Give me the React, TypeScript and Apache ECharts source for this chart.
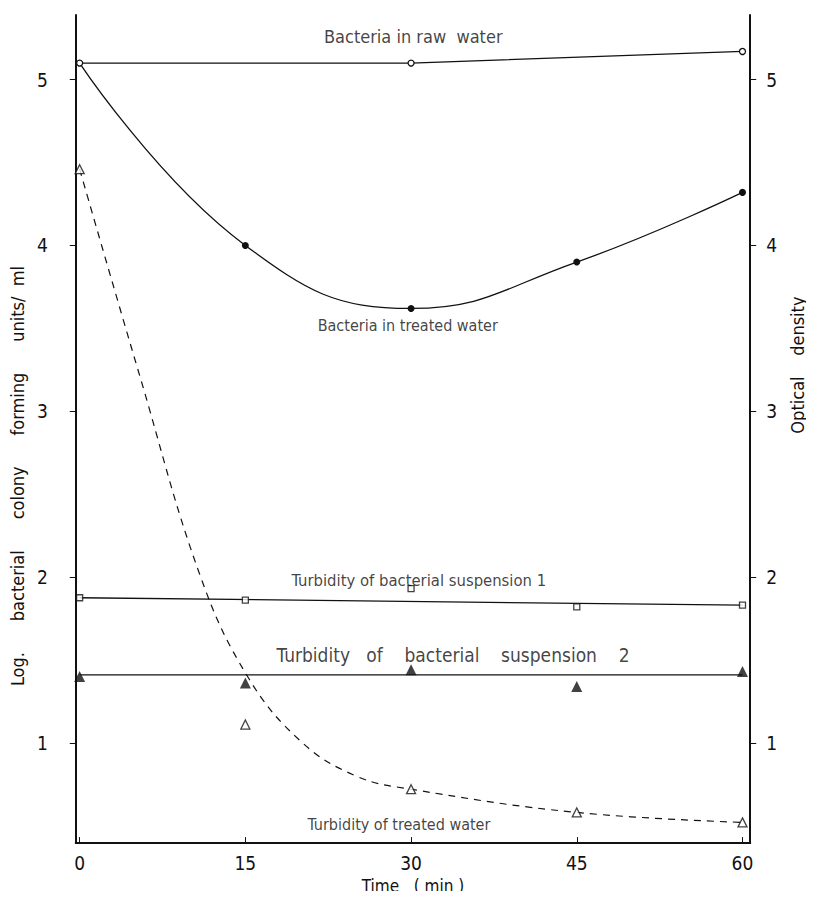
import React, { useEffect, useRef } from "react";
import * as echarts from "echarts";

// ---- data ----
const timeTicks = [0, 15, 30, 45, 60];
const yTicks = [1, 2, 3, 4, 5];

const rawWaterTimes = [0, 30, 60];
const rawWater = [5.1, 5.1, 5.17];

const treatedTimes = [0, 15, 30, 45, 60];
const treatedWater = [5.1, 4.0, 3.62, 3.9, 4.32];

const susp1Times = [0, 15, 30, 45, 60];
const susp1 = [1.875, 1.86, 1.93, 1.82, 1.83];
const susp1FitTimes = [0, 60];
const susp1Fit = [1.875, 1.83];

const susp2Times = [0, 15, 30, 45, 60];
const susp2 = [1.4, 1.36, 1.44, 1.34, 1.43];
const susp2FitTimes = [0, 60];
const susp2Fit = [1.41, 1.41];

const turbTimes = [0, 15, 30, 45, 60];
const turbTreated = [4.46, 1.11, 0.72, 0.58, 0.52];
const turbCurveTimes = [0, 5.5, 10.9, 15.2, 20, 25, 30, 45, 60];
const turbCurve = [4.46, 3.2, 2.01, 1.4, 1.01, 0.8, 0.72, 0.58, 0.52];

const annotationTexts = [
  "Bacteria in raw  water",
  "Bacteria in treated water",
  "Turbidity of bacterial suspension 1",
  "Turbidity   of    bacterial    suspension    2",
  "Turbidity of treated water",
];
const annotationTimes = [30.2, 29.7, 30.7, 33.8, 28.9];
const annotationValues = [5.26, 3.52, 1.98, 1.53, 0.51];
const annotationSizes = [18, 16, 16.5, 19, 16];

const FONT = "'Liberation Sans Narrow', 'DejaVu Sans Condensed', 'Liberation Sans', sans-serif";
const INK = "#111";

const zip = (xs: number[], ys: number[]) => xs.map((x, i) => [x, ys[i]]);

export default function App() {
  const ref = useRef<HTMLDivElement>(null);
  useEffect(() => {
    if (!ref.current) return;
    const chart = echarts.init(ref.current, null, { renderer: "svg" });
    const yAxisCommon = {
      type: "value" as const,
      min: 0.395,
      max: 5.39,
      splitLine: { show: false },
      axisLine: { show: true, onZero: false, lineStyle: { color: INK, width: 2 } },
      axisTick: { show: true, customValues: yTicks, length: 6, lineStyle: { color: INK, width: 1 } },
      nameLocation: "middle" as const,
      nameRotate: 90,
    };
    chart.setOption({
      animation: false,
      backgroundColor: "#fff",
      grid: { left: 74, right: 58, top: 15, bottom: 50 },
      xAxis: {
        type: "value",
        min: -0.35,
        max: 60.7,
        splitLine: { show: false },
        axisLine: { show: true, onZero: false, lineStyle: { color: INK, width: 2 } },
        axisTick: { show: true, inside: true, customValues: timeTicks, length: 6, lineStyle: { color: INK } },
        axisLabel: { customValues: timeTicks, margin: 10, fontSize: 19, color: INK, fontFamily: FONT },
        name: "Time   ( min )",
        nameLocation: "middle",
        nameGap: 28,
        nameTextStyle: { fontSize: 17, color: INK, fontFamily: FONT },
      },
      yAxis: [
        {
          ...yAxisCommon,
          position: "left",
          axisLabel: { customValues: yTicks, margin: 28, fontSize: 19, color: INK, fontFamily: FONT },
          name: "Log.      bacterial      colony      forming      units/  ml",
          nameGap: 44,
          nameTextStyle: { fontSize: 18, color: INK, fontFamily: FONT, padding: [0, 94, 0, 0] },
        },
        {
          ...yAxisCommon,
          position: "right",
          axisLabel: { customValues: yTicks, margin: 16, fontSize: 19, color: INK, fontFamily: FONT },
          name: "Optical    density",
          nameGap: 36,
          nameTextStyle: { fontSize: 18, color: INK, fontFamily: FONT, padding: [0, 0, 0, 128] },
        },
      ],
      series: [
        {
          name: "Bacteria in raw water",
          type: "line",
          data: zip(rawWaterTimes, rawWater),
          symbol: "circle",
          symbolSize: 6,
          itemStyle: { color: "#fff", borderColor: INK, borderWidth: 1.3 },
          lineStyle: { color: INK, width: 1.3 },
          z: 3,
        },
        {
          name: "Bacteria in treated water",
          type: "line",
          smooth: 0.45,
          data: zip(treatedTimes, treatedWater).map((p, i) =>
            i === 0 ? { value: p, symbol: "none" } : { value: p }
          ),
          symbol: "circle",
          symbolSize: 7,
          itemStyle: { color: INK },
          lineStyle: { color: INK, width: 1.3 },
          z: 2,
        },
        {
          name: "Suspension 1 fit",
          type: "line",
          data: zip(susp1FitTimes, susp1Fit),
          showSymbol: false,
          lineStyle: { color: INK, width: 1.3 },
        },
        {
          name: "Turbidity of bacterial suspension 1",
          type: "scatter",
          data: zip(susp1Times, susp1),
          symbol: "rect",
          symbolSize: 6,
          itemStyle: { color: "#fff", borderColor: INK, borderWidth: 1.3 },
          z: 3,
        },
        {
          name: "Suspension 2 fit",
          type: "line",
          data: zip(susp2FitTimes, susp2Fit),
          showSymbol: false,
          lineStyle: { color: INK, width: 1.3 },
        },
        {
          name: "Turbidity of bacterial suspension 2",
          type: "scatter",
          data: zip(susp2Times, susp2),
          symbol: "triangle",
          symbolSize: 11,
          itemStyle: { color: INK },
          z: 3,
        },
        {
          name: "Treated water curve",
          type: "line",
          smooth: 0.4,
          data: zip(turbCurveTimes, turbCurve),
          showSymbol: false,
          lineStyle: { color: INK, width: 1.2, type: [7, 6] },
        },
        {
          name: "Turbidity of treated water",
          type: "scatter",
          data: zip(turbTimes, turbTreated),
          symbol: "triangle",
          symbolSize: 9,
          itemStyle: { color: "#fff", borderColor: INK, borderWidth: 1.3 },
          z: 3,
        },
        {
          name: "annotations",
          type: "scatter",
          silent: true,
          symbolSize: 1,
          itemStyle: { color: "rgba(0,0,0,0)" },
          data: annotationTexts.map((t, i) => ({
            name: t,
            value: [annotationTimes[i], annotationValues[i]],
            label: { fontSize: annotationSizes[i] },
          })),
          label: {
            show: true,
            position: "inside",
            formatter: "{b}",
            fontSize: 18,
            color: INK,
            fontFamily: FONT,
          },
          z: 5,
        },
      ],
    });
    return () => chart.dispose();
  }, []);
  return <div ref={ref} style={{ width: 814, height: 899, margin: -8 }} />;
}
